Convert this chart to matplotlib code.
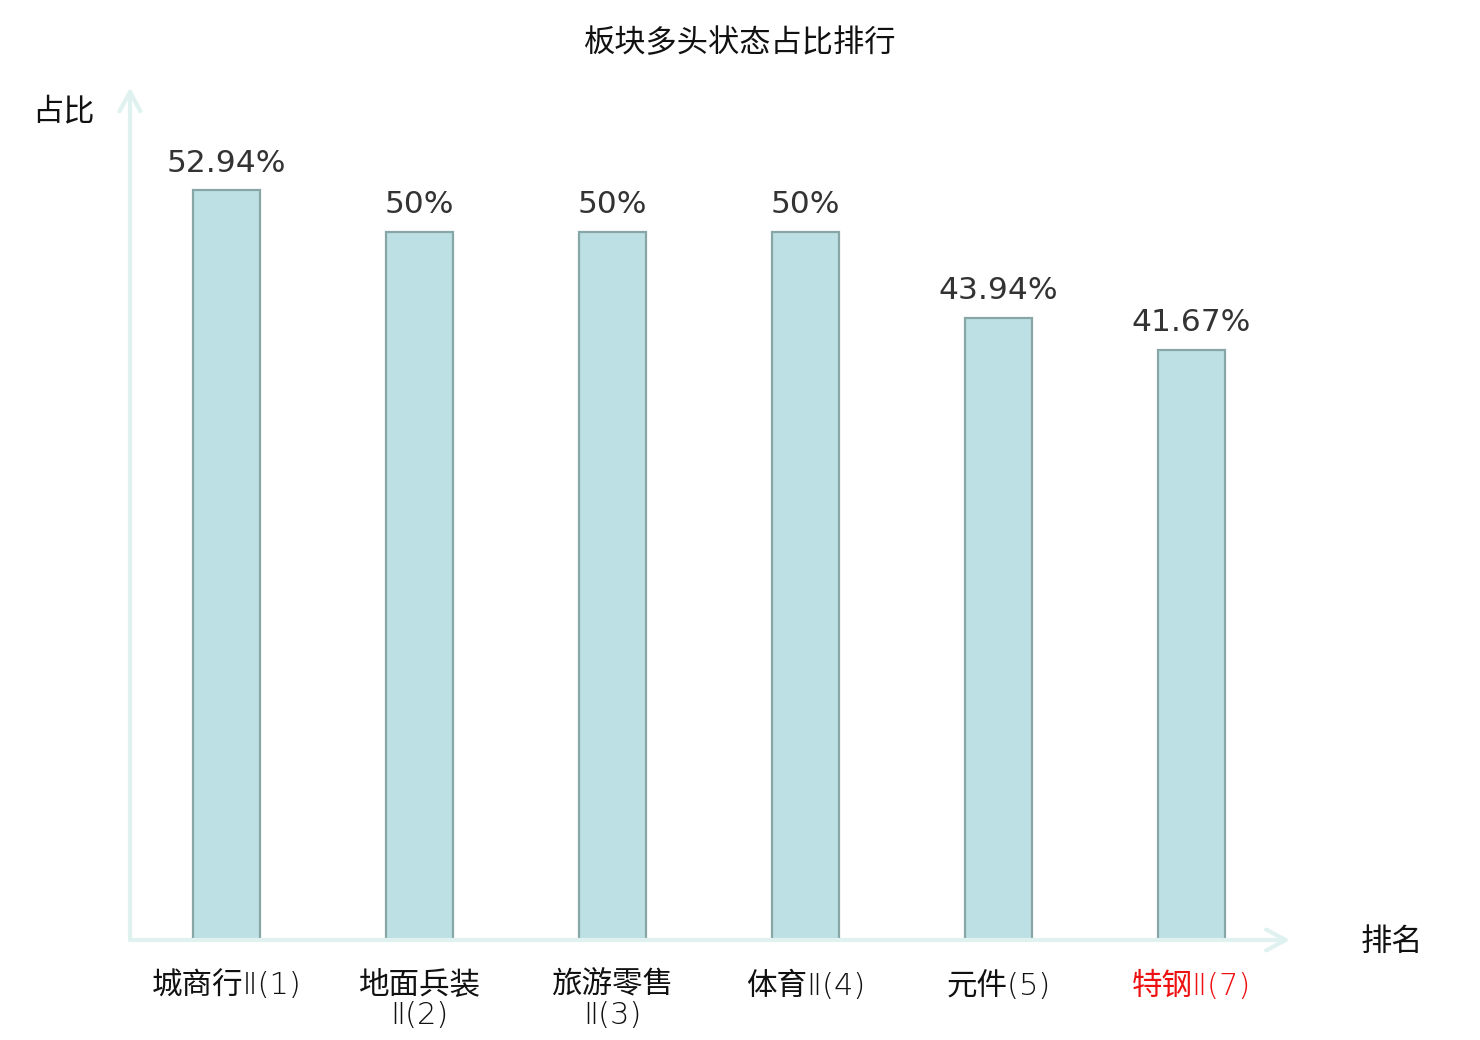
import matplotlib
matplotlib.use('Agg')
import matplotlib.pyplot as plt

plt.rcParams['font.family'] = ['Noto Sans CJK SC', 'DejaVu Sans']

# data
sectors = ['城商行Ⅱ(1)', '地面兵装\nⅡ(2)', '旅游零售\nⅡ(3)', '体育Ⅱ(4)', '元件(5)', '特钢Ⅱ(7)']
ratios = [52.94, 50, 50, 50, 43.94, 41.67]
ratio_labels = ['52.94%', '50%', '50%', '50%', '43.94%', '41.67%']
label_colors = ['#111111', '#111111', '#111111', '#111111', '#111111', '#ee1111']

AXIS_COLOR = '#dff2f0'

fig = plt.figure(figsize=(14.8, 10.4), dpi=100)
ax = fig.add_axes((130 / 1480, 100 / 1040, 1160 / 1480, 850 / 1040))

xs = range(len(sectors))
ax.bar(xs, ratios, width=0.35, color='#bce0e3', edgecolor='#88a6a6', linewidth=1.6, zorder=2)

for x, v, lab in zip(xs, ratios, ratio_labels):
    ax.annotate(lab, (x, v), xytext=(0, 9), textcoords='offset points',
                ha='center', va='bottom', fontsize=22.5, color='#333333',
                family='DejaVu Sans')

ax.set_xlim(-0.5, 5.51)
ax.set_ylim(0, 60)
for s in ax.spines.values():
    s.set_visible(False)
ax.set_yticks([])
ax.set_xticks(list(xs))
ax.set_xticklabels(sectors, fontsize=22, linespacing=1.08,
                   family=['DejaVu Sans', 'Noto Sans CJK SC'], fontweight='light')
for t, c in zip(ax.get_xticklabels(), label_colors):
    t.set_color(c)
ax.tick_params(axis='x', length=0, pad=22)

# axis arrows
arrow = dict(arrowstyle='->,head_length=1.4,head_width=0.75', color=AXIS_COLOR, lw=3,
             shrinkA=0, shrinkB=0)
ax.annotate('', xy=(0, 1.003), xytext=(0, 0), xycoords='axes fraction',
            textcoords='axes fraction', arrowprops=arrow, annotation_clip=False)
ax.annotate('', xy=(1.0, 0), xytext=(0, 0), xycoords='axes fraction',
            textcoords='axes fraction', arrowprops=arrow, annotation_clip=False)

fig.text(63 / 1480, 1 - 111 / 1040, '占比', ha='center', va='center', fontsize=22.5, color='#111111')
fig.text(1392 / 1480, 1 - 942 / 1040, '排名', ha='center', va='center', fontsize=22.5, color='#111111')
fig.text(740 / 1480, 1 - 43 / 1040, '板块多头状态占比排行', ha='center', va='center',
         fontsize=22.5, color='#111111')

fig.savefig('out.png', dpi=100)
